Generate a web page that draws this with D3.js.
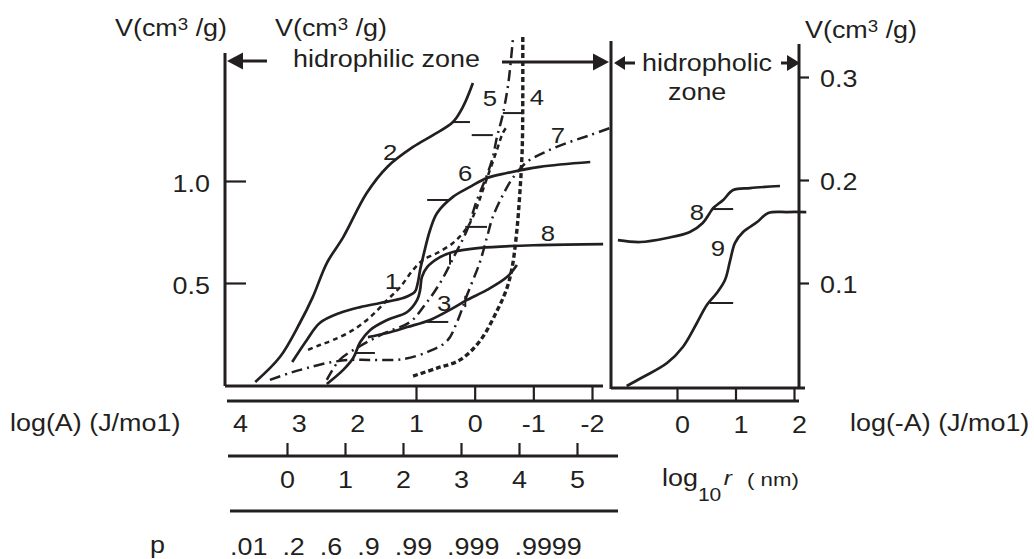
<!DOCTYPE html>
<html>
<head>
<meta charset="utf-8">
<script src="https://cdn.jsdelivr.net/npm/d3@7"></script>
<style>
  body { margin: 0; background: #fff; }
  text { font-family: "Liberation Sans", Arial, sans-serif; fill: #231f20; }
</style>
</head>
<body>
<svg id="chart" width="1034" height="559"></svg>
<script>
// ---- pore volume curves, hydrophilic zone: [log(A), V cm3/g] ----
const curve1 = [[2.84,0.172],[2.64,0.196],[2.41,0.221],[2.07,0.270],[1.78,0.333],[1.49,0.417],[1.27,0.480],[1.05,0.564],[0.88,0.613],[0.64,0.647],[0.37,0.696],[0.20,0.745],[0.08,0.794],[-0.04,0.873],[-0.14,0.956],[-0.26,1.054],[-0.38,1.152],[-0.48,1.235],[-0.57,1.275]];
const curve2 = [[3.74,0.015],[3.32,0.137],[2.98,0.304],[2.76,0.431],[2.52,0.598],[2.24,0.725],[1.84,0.941],[1.49,1.069],[1.05,1.167],[0.71,1.225],[0.37,1.289],[0.20,1.363],[0.03,1.480]];
const curve3 = [[1.82,0.235],[1.49,0.255],[1.15,0.284],[0.76,0.319],[0.37,0.377],[0.13,0.417],[-0.21,0.466],[-0.55,0.529],[-0.72,0.588]];
const curve4 = [[1.05,0.044],[0.64,0.083],[0.25,0.123],[-0.09,0.216],[-0.38,0.363],[-0.55,0.475],[-0.64,0.578],[-0.72,0.760],[-0.77,0.941],[-0.81,1.152],[-0.82,1.397],[-0.82,1.716]];
const curve5 = [[2.52,0.025],[2.30,0.123],[1.95,0.191],[1.53,0.255],[1.10,0.309],[0.85,0.392],[0.59,0.500],[0.34,0.637],[0.13,0.760],[-0.04,0.907],[-0.21,1.029],[-0.31,1.118],[-0.38,1.216],[-0.47,1.314],[-0.57,1.471],[-0.65,1.691]];
const curve6 = [[3.11,0.113],[2.86,0.221],[2.64,0.304],[2.30,0.353],[1.95,0.382],[1.61,0.402],[1.22,0.426],[1.02,0.456],[0.97,0.500],[0.93,0.564],[0.88,0.627],[0.76,0.760],[0.64,0.843],[0.37,0.922],[0.08,0.971],[-0.21,1.015],[-0.55,1.039],[-1.11,1.069],[-1.97,1.093]];
const curve7 = [[3.49,0.025],[3.15,0.059],[2.86,0.083],[2.52,0.108],[2.13,0.123],[1.78,0.123],[1.22,0.127],[0.76,0.167],[0.47,0.216],[0.30,0.309],[0.13,0.441],[-0.09,0.603],[-0.21,0.725],[-0.31,0.824],[-0.48,0.931],[-0.65,1.015],[-0.89,1.093],[-1.20,1.142],[-1.57,1.186],[-1.97,1.225],[-2.31,1.260]];
const curve8 = [[2.52,0.005],[2.24,0.074],[2.07,0.132],[1.95,0.211],[1.78,0.270],[1.49,0.319],[1.15,0.358],[0.98,0.417],[0.93,0.466],[0.90,0.529],[0.81,0.578],[0.59,0.627],[0.37,0.652],[-0.09,0.672],[-1.11,0.686],[-2.19,0.691]];

// ---- hydrophobic zone: [log(-A), V cm3/g] ----
const curve8b = [[-1.01,0.1417],[-0.63,0.1398],[-0.17,0.1437],[0.22,0.1495],[0.44,0.1583],[0.56,0.1680],[0.62,0.1728],[0.79,0.1806],[0.96,0.1903],[1.25,0.1922],[1.76,0.1942]];
const curve9 = [[-0.86,0.0],[-0.58,0.0087],[-0.17,0.0223],[0.10,0.0379],[0.34,0.0612],[0.51,0.0786],[0.68,0.0903],[0.82,0.1029],[0.91,0.1223],[0.99,0.1388],[1.13,0.1495],[1.37,0.1592],[1.56,0.1680],[1.88,0.1689],[2.21,0.1689]];

// short reference bars on the curves: [from, to, level] and [at, from, to]
const barsLeft  = [[0.37,0.08,1.289],[0.81,0.42,0.907],[0.16,-0.21,0.775],[0.81,0.45,0.309],[2.04,1.70,0.157],[0.05,-0.31,1.225],[-0.48,-0.82,1.333]];
const stemsLeft = [[0.42,0.652,0.590],[0.16,0.437,0.382]];
const barsRight = [[0.62,0.96,0.1718],[0.56,0.96,0.0806]];

// curve numbers: [text, x, y] in data units
const namesLeft  = [["1",1.41,0.510],["2",1.44,1.142],["3",0.52,0.402],["4",-1.06,1.412],["5",-0.26,1.407],["6",0.16,1.039],["7",-1.42,1.225],["8",-1.25,0.745]];
const namesRight = [["8",0.34,0.169],["9",0.70,0.134]];

// tick values and labels
const vLeftTicks   = [0.5, 1.0];
const vRightTicks  = [0.1, 0.2, 0.3];
const logATicks    = [4, 3, 2, 1, 0, -1, -2];
const logAMarks    = [1, 0, -1, -2];
const logNegATicks = [0, 1, 2];
const logRTicks    = [0, 1, 2, 3, 4, 5];
const pLabels      = [".01", ".2", ".6", ".9", ".99", ".999", ".9999"];

// ---- drawing ----
const INK = "#231f20";
const SX = 1.17;   // lettering is set slightly wide
const FS = 23;

const svg = d3.select("#chart");

const xA = d3.scaleLinear().domain([4, -2]).range([240, 592]);
const yV = d3.scaleLinear().domain([0, 1]).range([385, 181]);
const xB = d3.scaleLinear().domain([0, 2]).range([677, 794]);
const yR = d3.scaleLinear().domain([0, 0.3]).range([386, 77]);
const xR = d3.scaleLinear().domain([0, 5]).range([287, 577]);

const X0 = 225, XDIV = 611, XRA = 799;

function label(g, x, y, str, opt = {}) {
  return g.append("text")
    .attr("transform", `translate(${x},${y}) scale(${SX},1)`)
    .attr("font-size", opt.size || FS)
    .attr("text-anchor", opt.anchor || "start")
    .text(str);
}
function rule(x1, y1, x2, y2, w = 3) {
  svg.append("line").attr("x1", x1).attr("y1", y1).attr("x2", x2).attr("y2", y2)
    .attr("stroke", INK).attr("stroke-width", w);
}
function axisText(g, dx, dy) {
  g.attr("font-size", null).attr("font-family", null);
  g.selectAll(".tick text").each(function () {
    d3.select(this).attr("x", null).attr("y", null).attr("dy", null)
      .attr("font-size", FS)
      .attr("transform", `translate(${dx},${dy}) scale(${SX},1)`);
  });
  g.selectAll(".tick line").attr("stroke", INK).attr("stroke-width", 2.2);
  g.select(".domain").remove();
}

// frames
rule(X0, 53, X0, 386);
rule(X0, 386, 603, 386);
rule(XDIV, 41, XDIV, 389);
rule(XDIV, 388, 805, 388);
rule(XRA, 44, XRA, 389);

// left volume axis
const gL = svg.append("g").attr("transform", `translate(${X0},0)`)
  .call(d3.axisLeft(yV).tickValues(vLeftTicks).tickFormat(d3.format(".1f")).tickSize(-21));
axisText(gL, -15, 10);

// right volume axis
const gR = svg.append("g").attr("transform", `translate(${XRA},0)`)
  .call(d3.axisRight(yR).tickValues(vRightTicks).tickFormat(d3.format(".1f")).tickSize(10));
axisText(gR, 21, 9);

// log(A) scale line
rule(227, 401, XRA, 401);
const gA = svg.append("g").attr("transform", "translate(0,401)")
  .call(d3.axisBottom(xA).tickValues(logATicks).tickFormat(d => String(d)).tickSizeInner(-15).tickSizeOuter(0));
axisText(gA, 0, 31);
gA.selectAll(".tick").filter(d => !logAMarks.includes(d)).select("line").remove();

const gB = svg.append("g").attr("transform", "translate(0,401)")
  .call(d3.axisBottom(xB).tickValues(logNegATicks).tickFormat(d => String(d)).tickSizeInner(-13).tickSizeOuter(0));
axisText(gB, 5, 32);

// log10 r scale line
rule(228, 456, 618, 456);
const gRr = svg.append("g").attr("transform", "translate(0,456)")
  .call(d3.axisBottom(xR).tickValues(logRTicks).tickFormat(d => String(d)).tickSizeInner(-13).tickSizeOuter(0));
axisText(gRr, 0, 32);

rule(230, 511, 618, 511);

// curves
const lineL = d3.line().x(d => xA(d[0])).y(d => yV(d[1])).curve(d3.curveCatmullRom.alpha(0.5));
const lineR = d3.line().x(d => xB(d[0])).y(d => yR(d[1])).curve(d3.curveCatmullRom.alpha(0.5));

const solid = { dash: null, w: 2.7 };
const dashed = { dash: "5,4", w: 2.5 };
const dotted = { dash: "5,3", w: 3.4 };
const dashDot = { dash: "11,5,2,5", w: 2.5 };

const leftCurves = [
  [curve2, solid], [curve6, solid], [curve8, solid], [curve3, solid],
  [curve1, dashed], [curve4, dotted], [curve5, dashDot], [curve7, dashDot]
];
leftCurves.forEach(([pts, st]) => {
  svg.append("path").datum(pts).attr("d", lineL)
    .attr("fill", "none").attr("stroke", INK).attr("stroke-width", st.w)
    .attr("stroke-dasharray", st.dash).attr("stroke-linejoin", "round");
});
[curve8b, curve9].forEach(pts => {
  svg.append("path").datum(pts).attr("d", lineR)
    .attr("fill", "none").attr("stroke", INK).attr("stroke-width", solid.w)
    .attr("stroke-linejoin", "round");
});

// reference bars
barsLeft.forEach(([a1, a2, v]) => rule(xA(a1), yV(v), xA(a2), yV(v), 2));
stemsLeft.forEach(([a, v1, v2]) => rule(xA(a), yV(v1), xA(a), yV(v2), 2));
barsRight.forEach(([b1, b2, r]) => rule(xB(b1), yR(r), xB(b2), yR(r), 2));

// curve numbers
namesLeft.forEach(([s, a, v]) => label(svg, xA(a), yV(v), s, { anchor: "middle", size: 22 }).attr("dy", "0.36em"));
namesRight.forEach(([s, b, r]) => label(svg, xB(b), yR(r), s, { anchor: "middle", size: 22 }).attr("dy", "0.36em"));

// axis titles
function volTitle(x, y) {
  const t = label(svg, x, y, null);
  t.append("tspan").text("V(cm");
  t.append("tspan").attr("font-size", 16).attr("dy", -6).text("3");
  t.append("tspan").attr("dy", 6).text(" /g)");
}
volTitle(115, 36);
volTitle(275, 36);
volTitle(805, 38);

label(svg, 10, 431, "log(A) (J/mo1)");
label(svg, 850, 431, "log(-A) (J/mo1)");

const lr = label(svg, 662, 486, null);
lr.append("tspan").text("log");
lr.append("tspan").attr("font-size", 18).attr("dy", 15).text("10");
lr.append("tspan").attr("font-style", "italic").attr("font-size", 21).attr("dy", -16).attr("dx", 2).text("r");
lr.append("tspan").attr("font-size", 19).attr("dy", 1).attr("dx", 13).text("( nm)");

label(svg, 150, 553, "p");
let px = 230;
pLabels.forEach(s => {
  const t = label(svg, px, 555, s);
  px += t.node().getComputedTextLength() * SX + 15;
});

// zone markers
label(svg, 293, 67, "hidrophilic zone");
label(svg, 642, 71, "hidropholic");
label(svg, 668, 100, "zone");

function head(tipX, y, dir, len, half) {
  const b = tipX - dir * len;
  svg.append("path").attr("d", `M${tipX},${y}L${b},${y - half}L${b},${y + half}Z`).attr("fill", INK);
}
rule(X0 + 14, 61, 267, 61, 3);
head(X0 + 2, 61, -1, 16, 8.5);
rule(502, 62, XDIV - 16, 62, 3);
head(XDIV - 2, 62, 1, 16, 8.5);
rule(XDIV + 12, 63, 635, 63, 3);
head(XDIV + 3, 63, -1, 11, 7);
rule(781, 63, XRA - 11, 63, 3);
head(XRA + 1, 63, 1, 13, 8);
</script>
</body>
</html>
